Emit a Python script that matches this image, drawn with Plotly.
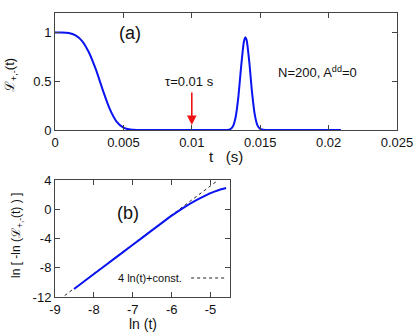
import plotly.graph_objects as go

# panel (a): coherence vs time
t_decay = [0, 0.0005, 0.001, 0.0015, 0.002, 0.0025, 0.003, 0.0035, 0.004, 0.0045, 0.005, 0.0055, 0.006]
L_decay = [1.0, 1.0, 0.994, 0.97, 0.91, 0.79, 0.616, 0.407, 0.216, 0.086, 0.024, 0.004, 0.0]
t_revival = [0.0065, 0.008, 0.01, 0.012, 0.0126, 0.0128, 0.013, 0.0132, 0.0134, 0.0136, 0.0138, 0.0139,
             0.014, 0.0142, 0.0144, 0.0146, 0.0148, 0.015, 0.0152, 0.0154, 0.017, 0.019, 0.0209]
L_revival = [0, 0, 0, 0, 0.001, 0.0075, 0.036, 0.129, 0.335, 0.64, 0.90, 0.95,
             0.927, 0.70, 0.39, 0.16, 0.048, 0.011, 0.002, 0, 0, 0, 0]

# panel (b): ln(-ln L) vs ln t
lnt = [-8.51, -8.0, -7.5, -7.0, -6.5, -6.2, -6.0, -5.7, -5.4, -5.2, -5.0, -4.8, -4.6]
lnlnL = [-10.9, -8.86, -6.86, -4.86, -2.86, -1.66, -0.88, 0.2, 1.15, 1.7, 2.2, 2.6, 2.9]
fit_x = [-8.75, -4.8]
fit_y = [-11.8, 4.0]

xt_a = [0, 0.005, 0.01, 0.015, 0.02, 0.025]
xt_a_txt = ["0", "0.005", "0.01", "0.015", "0.02", "0.025"]
yt_a = [0, 0.5, 1]
xt_b = [-9, -8, -7, -6, -5]
yt_b = [-12, -8, -4, 0, 4]

W, H = 415, 333
font = "Liberation Sans, Arial, sans-serif"
blue = "#0a14f0"
axcol = "#444444"

fig = go.Figure()
fig.add_trace(go.Scatter(x=t_decay + t_revival, y=L_decay + L_revival, mode="lines",
                         line=dict(color=blue, width=2, shape="spline", smoothing=0.6),
                         xaxis="x", yaxis="y", showlegend=False))
fig.add_trace(go.Scatter(x=fit_x, y=fit_y, mode="lines",
                         line=dict(color="#222222", width=1, dash="3px,3px"),
                         xaxis="x2", yaxis="y2", showlegend=False))
fig.add_trace(go.Scatter(x=lnt, y=lnlnL, mode="lines",
                         line=dict(color=blue, width=2, shape="spline", smoothing=0.8),
                         xaxis="x2", yaxis="y2", showlegend=False))

ax_common = dict(showline=True, mirror="ticks", linecolor=axcol, linewidth=1, automargin=False,
                 ticks="inside", ticklen=5, tickcolor=axcol, showgrid=False, zeroline=False,
                 tickfont=dict(size=13, color="#111111", family=font))

fig.update_layout(
    width=W, height=H,
    margin=dict(l=0, r=0, t=0, b=0, autoexpand=False),
    paper_bgcolor="white", plot_bgcolor="white",
    font=dict(family=font, color="#111111"),
    xaxis=dict(domain=[55 / W, 397 / W], range=[0, 0.025], tickvals=xt_a, ticktext=xt_a_txt,
               anchor="y", **ax_common),
    yaxis=dict(domain=[1 - 130 / H, 1 - 13 / H], range=[0, 1.2], tickvals=yt_a,
               ticktext=["0", "0.5", "1"], anchor="x", **ax_common),
    xaxis2=dict(domain=[55 / W, 230 / W], range=[-9, -4.5], tickvals=xt_b,
                ticktext=[str(v) for v in xt_b], anchor="y2", **ax_common),
    yaxis2=dict(domain=[1 - 297 / H, 1 - 180 / H], range=[-12, 4], tickvals=yt_b,
                ticktext=[str(v) for v in yt_b], anchor="x2", **ax_common),
)


def label(text, x, y, xref="paper", yref="paper", size=13, angle=0, xanchor="center"):
    return dict(text=text, x=x, y=y, xref=xref, yref=yref, showarrow=False, textangle=angle,
                xanchor=xanchor, yanchor="middle", font=dict(size=size))


ann = [
    # axis titles
    label("t   (s)", 226 / W, 1 - 157 / H, size=15),
    label("\u2112<sub>+,-</sub>(t)", 10 / W, 1 - 75 / H, angle=-90),
    label("ln (t)", 143 / W, 1 - 324 / H, size=14),
    label("ln [ -ln (\u2112<sub>+,-</sub>(t) ) ]", 17 / W, 1 - 236 / H, size=12, angle=-90),
    # panel labels and notes
    label("(a)", 0.00547, 1.0, "x", "y", size=18),
    label("N=200, A<sup>dd</sup>=0", 0.0192, 0.59, "x", "y"),
    label("\u03c4=0.01 s", 0.0098, 0.5, "x", "y"),
    label("(b)", -7.12, -0.5, "x2", "y2", size=18),
    label("4 ln(t)+const.", -5.68, -9.4, "x2", "y2", size=11, xanchor="right"),
    dict(text="", x=0.01, y=0.05, ax=0.01, ay=0.4, xref="x", yref="y", axref="x", ayref="y",
         showarrow=True, arrowhead=2, arrowsize=1.2, arrowwidth=1.6, arrowcolor="#ee1111"),
]
fig.update_layout(annotations=ann)

# legend sample for the fit line
fig.add_shape(type="line", x0=-5.5, x1=-4.62, y0=-9.4, y1=-9.4, xref="x2", yref="y2",
              line=dict(color="#222222", width=1, dash="3px,3px"))

fig.write_html("out.html", config={"displayModeBar": False},
               post_script="document.body.style.margin='0';")
